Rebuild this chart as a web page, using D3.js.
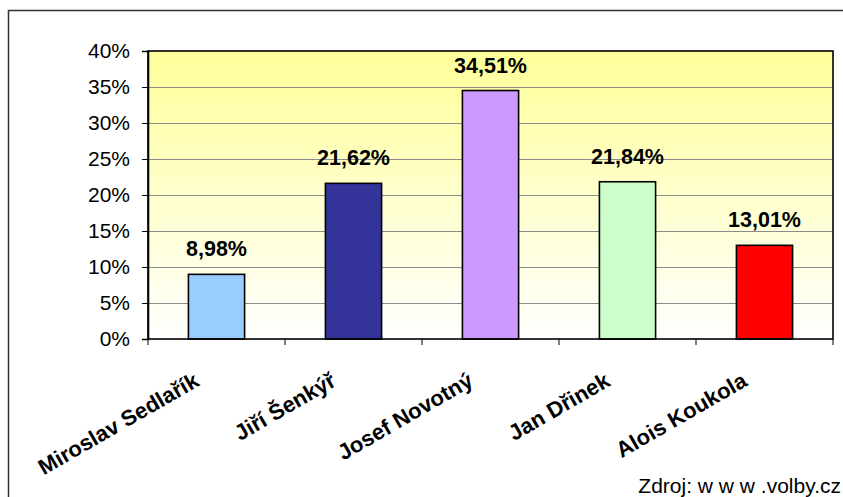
<!DOCTYPE html>
<html>
<head>
<meta charset="utf-8">
<script src="https://cdn.jsdelivr.net/npm/d3@7"></script>
<style>
  html, body { margin: 0; padding: 0; background: #fff; }
  svg { display: block; font-family: Arial, "Liberation Sans", sans-serif; }
</style>
</head>
<body>
<svg id="chart" width="843" height="497"></svg>
<script>
// Candidates and their share of the vote
const candidates = ["Miroslav Sedlařík", "Jiří Šenkýř", "Josef Novotný", "Jan Dřinek", "Alois Koukola"];
const shares = [8.98, 21.62, 34.51, 21.84, 13.01];
const barColors = ["#99CCFF", "#333399", "#CC99FF", "#CCFFCC", "#FF0000"];
const yTicks = [0, 5, 10, 15, 20, 25, 30, 35, 40];
const sourceNote = "Zdroj: w w w .volby.cz";

const svg = d3.select("#chart");
const plot = { left: 148, right: 833, top: 51, bottom: 339 };

// Outer frame
svg.append("rect")
  .attr("x", 8.5).attr("y", 10.5)
  .attr("width", 840).attr("height", 500)
  .attr("fill", "#fff").attr("stroke", "#333").attr("stroke-width", 1.5);

// Plot background gradient
const defs = svg.append("defs");
const grad = defs.append("linearGradient").attr("id", "bg")
  .attr("x1", 0).attr("y1", 0).attr("x2", 0).attr("y2", 1);
grad.append("stop").attr("offset", "0%").attr("stop-color", "#FFFF99");
grad.append("stop").attr("offset", "100%").attr("stop-color", "#FFFFFF");

const y = d3.scaleLinear().domain([0, 40]).range([plot.bottom, plot.top]);
const xCat = d3.scaleBand().domain(candidates).range([plot.left, plot.right]).padding(0);
const xBar = d3.scaleBand().domain(candidates).range([plot.left, plot.right])
  .paddingInner(0.59).paddingOuter(0.295);

svg.append("rect")
  .attr("x", plot.left).attr("y", plot.top)
  .attr("width", plot.right - plot.left).attr("height", plot.bottom - plot.top)
  .attr("fill", "url(#bg)");

// Gridlines
svg.append("g").selectAll("line")
  .data(yTicks.filter(t => t > 0 && t < 40))
  .join("line")
  .attr("x1", plot.left).attr("x2", plot.right)
  .attr("y1", d => Math.round(y(d)) + 0.5).attr("y2", d => Math.round(y(d)) + 0.5)
  .attr("stroke", "#8c8c8c").attr("stroke-width", 1);

// Bars
svg.append("g").selectAll("rect")
  .data(candidates)
  .join("rect")
  .attr("x", d => xBar(d))
  .attr("y", (d, i) => y(shares[i]))
  .attr("width", xBar.bandwidth())
  .attr("height", (d, i) => y(0) - y(shares[i]))
  .attr("fill", (d, i) => barColors[i])
  .attr("stroke", "#000").attr("stroke-width", 1.6);

// Value labels
svg.append("g").selectAll("text")
  .data(candidates)
  .join("text")
  .attr("x", d => xBar(d) + xBar.bandwidth() / 2)
  .attr("y", (d, i) => y(shares[i]) - 18)
  .attr("text-anchor", "middle")
  .attr("font-size", 21.5).attr("font-weight", "bold")
  .attr("fill", "#000")
  .text((d, i) => shares[i].toFixed(2).replace(".", ",") + "%");

// Plot border
svg.append("rect")
  .attr("x", plot.left).attr("y", plot.top)
  .attr("width", plot.right - plot.left).attr("height", plot.bottom - plot.top)
  .attr("fill", "none").attr("stroke", "#000").attr("stroke-width", 1.6);

// Y axis
const yAxis = svg.append("g")
  .attr("transform", `translate(${plot.left},0)`)
  .call(d3.axisLeft(y).tickValues(yTicks).tickSize(6).tickPadding(12)
    .tickFormat(d => d + "%"));
yAxis.select(".domain").attr("stroke", "#000").attr("stroke-width", 1.6);
yAxis.selectAll(".tick line").attr("stroke", "#000");
yAxis.selectAll(".tick text")
  .attr("font-size", 21).attr("fill", "#000")
  .attr("font-family", "Arial, 'Liberation Sans', sans-serif");

// X axis ticks at category boundaries
const bounds = candidates.map(d => xCat(d)).concat([plot.right]);
svg.append("g").selectAll("line")
  .data(bounds)
  .join("line")
  .attr("x1", d => d).attr("x2", d => d)
  .attr("y1", plot.bottom).attr("y2", plot.bottom + 6)
  .attr("stroke", "#000").attr("stroke-width", 1);

// Rotated category labels
svg.append("g").selectAll("text")
  .data(candidates)
  .join("text")
  .attr("transform", d => `translate(${xCat(d) + xCat.bandwidth() / 2 - 16},385) rotate(-30)`)
  .attr("text-anchor", "end")
  .attr("font-size", 22).attr("font-weight", "bold")
  .attr("fill", "#000")
  .text(d => d);

// Source note
svg.append("text")
  .attr("x", 841).attr("y", 493)
  .attr("text-anchor", "end")
  .attr("font-size", 21).attr("fill", "#000")
  .text(sourceNote);
</script>
</body>
</html>
